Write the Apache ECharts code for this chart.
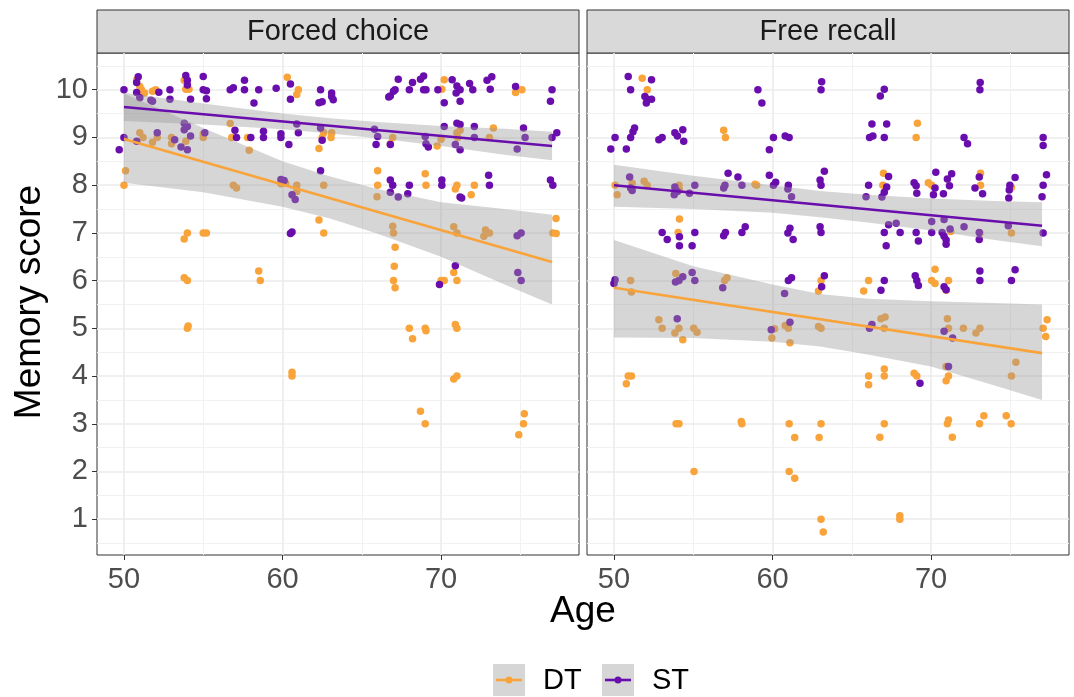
<!DOCTYPE html>
<html>
<head>
<meta charset="utf-8">
<script src="https://cdn.jsdelivr.net/npm/echarts@6/dist/echarts.min.js"></script>
<style>
  html, body { margin: 0; padding: 0; background: #fff; }
  #chart-container { width: 1074px; height: 697px; }
</style>
</head>
<body>
<div id="chart-container"></div>
<script>

// facets, groups and ticks
const panels = ['Forced choice', 'Free recall'];
const groups = ['DT', 'ST'];
const ageTicks = [50, 60, 70];
const ageMinor = [55, 65, 75];
const scoreTicks = [1, 2, 3, 4, 5, 6, 7, 8, 9, 10];
const scoreMinor = [0.5, 1.5, 2.5, 3.5, 4.5, 5.5, 6.5, 7.5, 8.5, 9.5, 10.5];

// [age, score] jittered points
const fcDT = [
  [50.8,10.21],[51.0,10.07],[51.1,10.0],[51.0,9.9],[51.3,9.93],[51.8,9.97],[52.0,10.0],[53.8,10.2],[53.9,10.01],[54.1,10.01],
  [56.7,9.29],[57.9,8.73],[56.8,9.0],[57.8,9.0],[51.0,9.1],[51.2,9.0],[51.8,8.9],[52.1,9.0],[53.0,9.0],[53.0,8.87],
  [53.9,8.92],[55.0,9.0],[55.0,9.07],[50.1,8.3],[50.0,8.0],[56.9,8.0],[57.1,7.94],[59.9,8.03],[60.2,8.04],[60.9,8.0],
  [60.9,7.87],[60.3,10.26],[61.0,10.0],[60.9,9.9],[62.6,9.1],[62.5,9.0],[62.3,8.77],[62.6,8.0],[62.3,7.27],
  [54.0,7.0],[53.8,6.87],[55.0,7.0],[55.2,7.0],[53.8,6.06],[54.0,6.0],[54.05,5.05],[54.0,5.0],[58.5,6.2],[58.6,6.0],
  [60.6,4.08],[60.6,4.0],[62.6,7.0],
  [70.2,10.21],[70.05,10.01],[74.7,9.94],[75.1,10.0],[73.3,9.2],[71.0,9.1],[71.2,9.15],[71.05,9.0],[70.0,8.96],[69.75,8.82],
  [66.8,8.87],[66.95,9.0],[73.05,9.0],[63.1,9.1],[63.06,9.0],[66.0,8.3],[66.0,8.0],[65.96,7.76],[69.0,8.24],[69.05,8.0],
  [71.0,8.0],[70.9,7.92],[72.1,8.0],[71.9,7.8],[77.25,7.3],
  [66.95,7.14],[67.0,7.0],[67.1,6.7],[67.05,6.3],[67.0,6.0],[67.1,5.85],[70.8,7.13],[71.0,7.0],[72.8,7.06],[72.7,6.93],
  [73.05,7.0],[70.8,6.17],[70.0,6.0],[70.2,6.0],[71.0,6.0],[77.05,7.0],[77.26,6.99],[68.0,5.0],[68.2,4.78],[69.0,5.0],
  [69.05,4.95],[70.9,5.08],[71.0,5.0],[70.8,3.94],[71.0,4.0],[68.7,3.26],[69.0,3.0],[75.25,3.21],[75.2,3.0],[74.9,2.77]
];

const fcST = [
  [50.0,10.0],[50.9,10.27],[50.8,10.15],[50.8,9.94],[51.0,9.83],[51.7,9.78],[51.8,9.76],[52.2,9.95],[52.9,10.0],[52.9,9.8],
  [53.9,10.3],[54.0,10.2],[54.0,10.1],[54.2,9.8],[55.0,10.28],[55.0,10.0],[55.2,9.98],[55.2,9.81],[56.7,10.0],[56.9,10.04],
  [57.6,10.2],[57.6,10.0],[58.2,9.72],[58.5,10.0],[59.6,10.03],[60.5,10.12],[60.5,9.8],[62.4,10.0],[62.5,9.75],[62.3,9.73],
  [50.0,9.0],[49.7,8.74],[50.8,8.92],[52.1,9.1],[53.2,8.95],[53.8,9.3],[54.0,9.23],[53.8,9.16],[54.2,9.03],[53.6,8.8],
  [54.0,8.74],[55.1,9.1],[57.0,9.15],[57.1,9.0],[58.0,9.0],[58.8,9.13],[58.8,9.0],[59.9,9.08],[59.9,9.0],[60.4,8.85],
  [60.9,9.28],[61.0,9.1],[62.4,9.2],[62.5,8.94],
  [59.9,8.12],[60.1,8.1],[60.6,7.8],[60.8,7.7],[62.4,8.3],[60.5,6.99],[60.6,7.02],
  [63.1,9.93],[63.1,9.86],[63.2,9.79],[67.3,10.22],[67.1,10.0],[67.0,9.97],[66.7,9.85],[66.8,9.87],[68.0,10.0],[68.2,10.15],
  [68.7,10.22],[68.9,10.29],[68.9,10.0],[69.05,10.0],[69.8,10.0],[70.7,10.21],[71.0,10.08],[70.95,9.93],[71.2,10.0],[71.2,9.76],
  [70.2,9.73],[71.8,10.13],[72.0,10.0],[72.9,10.2],[73.2,10.27],[73.1,10.01],[74.7,10.07],[77.0,10.0],[76.9,9.76],
  [65.8,9.17],[66.0,9.02],[65.9,8.85],[66.8,8.85],[69.0,9.02],[69.2,8.8],[69.05,8.87],[70.2,9.23],[71.0,9.3],[71.2,9.27],
  [70.9,8.85],[71.2,8.74],[72.1,9.23],[72.1,9.0],[74.8,8.76],[75.2,9.2],[75.3,9.0],[77.0,9.0],[77.3,9.1],
  [66.8,8.11],[66.95,8.0],[66.8,7.85],[67.3,7.75],[67.9,7.82],[68.0,8.0],[70.05,8.11],[70.05,8.0],[71.2,7.75],[71.3,7.73],
  [73.0,8.21],[73.05,8.0],[76.9,8.11],[77.05,8.0],
  [70.9,6.31],[69.9,5.92],[74.8,6.94],[75.05,7.0],[74.84,6.17],[75.05,6.0]
];

const frDT = [
  [56.92,9.15],[57.03,9.0],[51.78,10.24],[52.1,10.0],[50.07,8.0],[50.2,7.8],[51.15,8.04],[51.9,8.08],[52.1,8.0],[54.1,8.0],
  [54.13,7.9],[58.9,8.02],[59.0,8.0],[54.13,7.29],
  [69.14,9.3],[69.06,9.0],[67.0,8.25],[66.96,8.0],[69.83,8.05],[70.04,8.0],[73.12,8.25],[73.12,8.0],[75.07,7.95],
  [54.05,7.01],[51.05,6.0],[51.1,5.76],[53.9,6.15],[56.98,6.0],[57.13,6.06],[63.06,6.0],[62.9,5.78],[52.83,5.18],[53.04,5.0],
  [53.84,4.9],[54.1,5.0],[54.34,4.76],[55.03,5.0],[55.24,4.92],[59.96,4.8],[60.13,4.99],[60.8,5.06],[61.0,5.0],[61.1,4.7],
  [62.9,5.04],[63.06,5.0],[50.78,3.84],[50.9,4.0],[51.1,4.0],
  [71.24,7.03],[73.08,7.0],[75.07,7.0],[66.06,6.0],[65.75,5.78],[70.25,6.24],[70.04,6.0],[70.25,5.94],[71.1,6.0],[70.95,5.8],
  [66.84,5.2],[67.1,5.24],[67.05,5.0],[71.03,5.2],[71.1,5.0],[72.04,5.0],[72.83,4.9],[73.08,5.0],[77.07,5.0],[77.32,5.18],
  [77.23,4.83],[66.06,4.0],[66.06,3.82],[67.05,4.15],[67.05,4.0],[68.93,4.06],[69.1,4.0],[70.95,4.2],[71.1,4.0],[70.95,3.9],
  [75.35,4.29],[75.07,4.0],
  [53.92,3.0],[54.1,3.0],[58.03,3.05],[58.07,3.0],[55.05,2.0],[61.05,3.0],[61.4,2.71],[63.06,3.0],[62.94,2.71],[61.05,2.0],
  [61.4,1.86],[63.06,1.0],[63.2,0.73],[67.05,3.0],[66.77,2.72],[68.03,1.07],[68.03,1.0],[71.03,3.0],[71.1,3.08],[71.34,2.72],
  [73.06,3.0],[73.33,3.17],[74.74,3.17],[75.05,3.0]
];

const frST = [
  [50.9,10.28],[51.05,10.0],[52.37,10.21],[51.95,9.86],[52.1,9.8],[52.04,9.72],[52.37,9.8],[59.08,10.0],[59.33,9.72],[63.1,10.17],
  [63.06,10.0],
  [50.07,9.0],[49.8,8.76],[50.78,8.76],[51.05,9.0],[51.2,9.12],[51.3,9.2],[52.83,8.95],[53.04,9.0],[53.84,9.1],[54.0,9.03],
  [54.34,9.16],[54.4,8.92],[60.06,9.0],[59.8,8.74],[60.8,9.03],[61.05,9.0],
  [50.99,8.17],[51.05,7.94],[51.15,7.89],[53.84,7.96],[53.8,7.8],[54.0,7.87],[54.76,7.83],[55.1,8.0],[57.2,8.25],[57.82,8.17],
  [56.92,7.94],[57.0,8.0],[58.07,8.0],[59.8,8.21],[60.2,8.06],[60.06,8.0],[61.0,8.0],[60.97,7.92],[61.2,7.76],[63.0,8.11],
  [63.06,8.0],[63.27,8.29],
  [67.05,10.01],[66.8,9.87],[73.1,10.15],[73.08,10.0],[66.27,9.28],[67.2,9.28],[66.12,9.0],[66.33,9.03],[67.05,9.0],[72.08,9.0],
  [72.3,8.87],[77.07,9.0],[77.07,8.83],
  [66.06,8.0],[65.9,7.76],[66.9,7.75],[67.05,7.85],[67.32,8.18],[67.2,7.96],[68.93,8.05],[69.06,7.99],[69.1,7.83],[70.3,8.27],
  [70.25,7.94],[70.15,7.8],[70.78,7.82],[71.03,8.13],[71.3,8.24],[71.16,7.99],[72.77,7.94],[73.04,8.17],[73.25,7.82],[74.93,7.9],
  [74.97,8.0],[75.3,8.16],[74.9,7.73],[77.07,8.0],[77.0,7.76],[77.28,8.22],
  [53.04,7.01],[53.36,6.86],[54.13,6.92],[54.13,6.73],[54.93,6.73],[55.1,7.01],[56.92,6.94],[57.03,7.01],[58.07,7.01],[58.28,7.13],
  [61.1,7.1],[60.97,7.0],[61.3,6.86],[63.0,7.13],[63.06,7.01],[50.07,6.02],[50.0,5.94],[53.88,5.97],[54.1,6.0],[54.34,6.08],
  [54.93,6.17],[55.1,6.0],[56.86,5.85],[60.76,5.73],[61.0,6.0],[61.2,6.06],[63.1,5.87],[63.27,6.1],[53.99,5.2],[59.92,4.97],
  [61.1,5.13],
  [67.32,7.17],[67.8,7.2],[67.05,7.01],[68.05,7.01],[67.17,6.73],[69.06,7.01],[69.2,6.83],[70.04,7.24],[70.04,7.01],[70.82,7.28],
  [70.7,7.01],[70.82,6.93],[70.95,6.85],[70.95,6.76],[71.2,7.08],[72.08,7.13],[73.04,7.01],[73.04,6.86],[74.87,7.15],[77.07,7.0],
  [67.05,6.0],[66.84,5.8],[69.0,6.1],[69.1,6.0],[69.2,5.9],[70.82,5.87],[70.95,5.81],[73.08,6.2],[73.08,6.0],[75.3,6.23],
  [75.07,6.0],[66.27,5.08],[66.12,5.0],[70.82,4.94],[71.36,4.8],[71.1,4.2],[69.3,3.85]
];

// fitted lines (ends at age 50 and 77) and confidence band edges
const fitAges = [50, 77];
const fcDTfit = [8.97, 6.39];
const fcSTfit = [9.64, 8.82];
const frDTfit = [5.85, 4.48];
const frSTfit = [8.0, 7.15];

const bandAges = [50, 55, 60, 63, 66, 70, 74, 77];
const fcDTlo = [8.05, 7.85, 7.55, 7.3, 6.98, 6.5, 5.92, 5.5];
const fcDThi = [9.92, 9.2, 8.5, 8.18, 7.92, 7.64, 7.5, 7.38];
const fcSTlo = [9.345, 9.27, 9.17, 9.085, 8.985, 8.82, 8.64, 8.52];
const fcSThi = [9.935, 9.71, 9.5, 9.405, 9.325, 9.24, 9.18, 9.12];
const frDTlo = [4.81, 4.8, 4.72, 4.62, 4.45, 4.2, 3.8, 3.5];
const frDThi = [6.85, 6.3, 5.92, 5.72, 5.62, 5.57, 5.53, 5.5];
const frSTlo = [7.55, 7.5, 7.42, 7.33, 7.22, 7.05, 6.85, 6.72];
const frSThi = [8.43, 8.2, 8.0, 7.88, 7.8, 7.72, 7.67, 7.64];

const colors = { DT: '#F9A33B', ST: '#6A0DAD' };

const FONT = 'Liberation Sans, Arial, sans-serif';
const panelLeft = [97, 587];
const panelW = 482;
const panelTop = 53;
const panelH = 502;
const stripH = 43;

var dom = document.getElementById('chart-container');
var myChart = echarts.init(dom, null, { renderer: 'canvas' });

function pairs(xs, ys) {
  return xs.map((x, i) => [x, ys[i]]);
}

function scatterSeries(name, pts, idx) {
  return {
    name: name, type: 'scatter', xAxisIndex: idx * 2, yAxisIndex: idx * 2,
    data: pts, symbolSize: 7.5, z: 1, silent: true,
    itemStyle: { color: colors[name], opacity: 1 }
  };
}

// grey ribbon drawn over the points, like ggplot's geom_smooth
function bandSeries(lo, hi, idx) {
  return {
    type: 'custom', xAxisIndex: idx * 2, yAxisIndex: idx * 2, z: 2, silent: true,
    data: [[bandAges[0], lo[0]]],
    renderItem: (params, api) => {
      var pts = [];
      for (let i = 0; i < bandAges.length; i++) pts.push(api.coord([bandAges[i], hi[i]]));
      for (let i = bandAges.length - 1; i >= 0; i--) pts.push(api.coord([bandAges[i], lo[i]]));
      return {
        type: 'polygon',
        shape: { points: pts },
        style: { fill: 'rgba(153,153,153,0.4)' }
      };
    }
  };
}

function fitSeries(name, fit, idx) {
  return {
    name: name, type: 'line', xAxisIndex: idx * 2, yAxisIndex: idx * 2, z: 3, silent: true,
    data: pairs(fitAges, fit), showSymbol: false,
    lineStyle: { color: colors[name], width: 2.6 }
  };
}

var grids = [], xAxes = [], yAxes = [];
for (let i = 0; i < 2; i++) {
  grids.push({
    left: panelLeft[i], top: panelTop, width: panelW, height: panelH,
    show: true, borderColor: '#333333', borderWidth: 1, backgroundColor: 'transparent'
  });
  // major + minor x axes
  xAxes.push({
    gridIndex: i, type: 'value', min: 48.3, max: 78.7,
    axisLine: { show: false },
    axisTick: { show: true, customValues: ageTicks, length: 5, lineStyle: { color: '#333333', width: 1 } },
    axisLabel: { customValues: ageTicks, color: '#4D4D4D', fontSize: 29, fontFamily: FONT, margin: 10 },
    splitLine: { show: true, lineStyle: { color: '#EBEBEB', width: 1.6 } }
  });
  xAxes.push({
    gridIndex: i, type: 'value', min: 48.3, max: 78.7,
    axisLine: { show: false },
    axisTick: { show: false, customValues: ageMinor },
    axisLabel: { show: false, customValues: ageMinor },
    splitLine: { show: true, lineStyle: { color: '#F2F2F2', width: 1 } }
  });
  yAxes.push({
    gridIndex: i, type: 'value', min: 0.25, max: 10.77,
    axisLine: { show: false },
    axisTick: { show: i === 0, customValues: scoreTicks, length: 5, lineStyle: { color: '#333333', width: 1 } },
    axisLabel: { show: i === 0, customValues: scoreTicks, color: '#4D4D4D', fontSize: 29, fontFamily: FONT, margin: 9 },
    splitLine: { show: true, lineStyle: { color: '#EBEBEB', width: 1.6 } }
  });
  yAxes.push({
    gridIndex: i, type: 'value', min: 0.25, max: 10.77,
    axisLine: { show: false },
    axisTick: { show: false, customValues: scoreMinor },
    axisLabel: { show: false, customValues: scoreMinor },
    splitLine: { show: true, lineStyle: { color: '#F2F2F2', width: 1 } }
  });
}

var series = [
  scatterSeries('DT', fcDT, 0), scatterSeries('ST', fcST, 0),
  scatterSeries('DT', frDT, 1), scatterSeries('ST', frST, 1),
  bandSeries(fcDTlo, fcDThi, 0), bandSeries(fcSTlo, fcSThi, 0),
  bandSeries(frDTlo, frDThi, 1), bandSeries(frSTlo, frSThi, 1),
  fitSeries('DT', fcDTfit, 0), fitSeries('ST', fcSTfit, 0),
  fitSeries('DT', frDTfit, 1), fitSeries('ST', frSTfit, 1)
];

// strips, axis titles, legend
var graphics = [];
for (let i = 0; i < 2; i++) {
  graphics.push({
    type: 'rect', shape: { x: panelLeft[i], y: panelTop - stripH, width: panelW, height: stripH },
    style: { fill: '#D9D9D9', stroke: '#333333', lineWidth: 1 }
  });
  graphics.push({
    type: 'text', x: panelLeft[i] + panelW / 2, y: panelTop - stripH / 2,
    style: { text: panels[i], fill: '#1A1A1A', font: '29px ' + FONT, align: 'center', verticalAlign: 'middle' }
  });
}
graphics.push({
  type: 'text', x: 30, y: panelTop + panelH / 2 - 2, rotation: Math.PI / 2,
  style: { text: 'Memory score', fill: '#000', font: '37px ' + FONT, align: 'center', verticalAlign: 'middle' }
});
graphics.push({
  type: 'text', x: (panelLeft[0] + panelLeft[1] + panelW) / 2, y: 612,
  style: { text: 'Age', fill: '#000', font: '37px ' + FONT, align: 'center', verticalAlign: 'middle' }
});
var legendX = [493, 602];
for (let g = 0; g < groups.length; g++) {
  var lx = legendX[g], ly = 664;
  graphics.push({ type: 'rect', shape: { x: lx, y: ly, width: 32, height: 32 }, style: { fill: '#D6D6D6' } });
  graphics.push({ type: 'line', shape: { x1: lx + 3, y1: ly + 16, x2: lx + 29, y2: ly + 16 }, style: { stroke: colors[groups[g]], lineWidth: 2.6 } });
  graphics.push({ type: 'circle', shape: { cx: lx + 16, cy: ly + 16, r: 3.5 }, style: { fill: colors[groups[g]] } });
  graphics.push({
    type: 'text', x: lx + 50, y: ly + 17,
    style: { text: groups[g], fill: '#000', font: '29px ' + FONT, align: 'left', verticalAlign: 'middle' }
  });
}

var option = {
  animation: false,
  backgroundColor: '#ffffff',
  grid: grids,
  xAxis: xAxes,
  yAxis: yAxes,
  series: series,
  graphic: graphics
};

myChart.setOption(option);
window.addEventListener('resize', myChart.resize);
</script>
</body>
</html>
